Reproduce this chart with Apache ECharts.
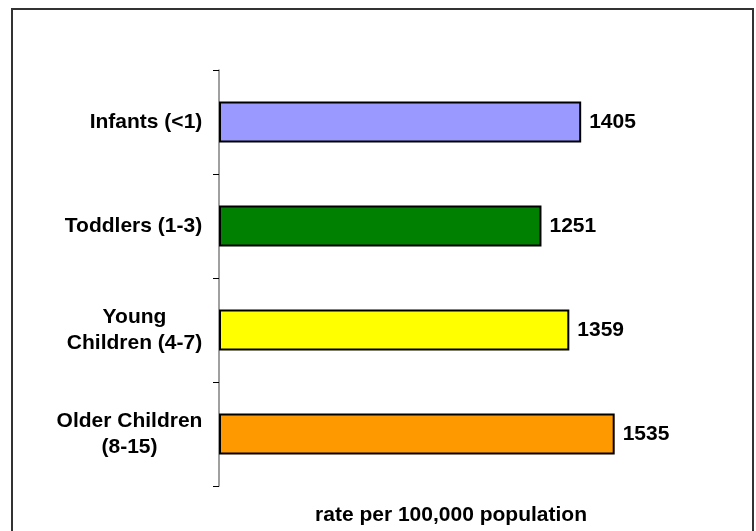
<!DOCTYPE html>
<html>
<head>
<meta charset="utf-8">
<script src="https://cdn.jsdelivr.net/npm/echarts@6/dist/echarts.min.js"></script>
<style>
    html, body { margin: 0; padding: 0; background: #fff; }
    #main { width: 756px; height: 531px; }
</style>
</head>
<body>
<div id="main"></div>
<script>
// 数据
var categories = ['Infants (<1)', 'Toddlers (1-3)', 'Young\nChildren (4-7)', 'Older Children\n(8-15)'];
var rates = [1405, 1251, 1359, 1535];
var barColors = ['#9999ff', '#008000', '#ffff00', '#ff9900'];
var axisName = 'rate per 100,000 population';

var labelFont = 'bold 21px "Liberation Sans", Arial, sans-serif';

// 每个类别的多行标签居中对齐，需要知道最长一行的宽度
var ctx = document.createElement('canvas').getContext('2d');
ctx.font = labelFont;
var rich = {};
categories.forEach(function (c, i) {
    var w = 0;
    c.split('\n').forEach(function (line) {
        w = Math.max(w, ctx.measureText(line).width);
    });
    rich['c' + i] = {
        width: Math.ceil(w) + 1,
        align: 'center',
        lineHeight: 26,
        fontSize: 21,
        fontWeight: 'bold',
        fontFamily: '"Liberation Sans", Arial, sans-serif',
        color: '#000'
    };
});

var myChart = echarts.init(document.getElementById('main'));

option = {
    animation: false,
    backgroundColor: '#fff',
    graphic: [{
        type: 'rect',
        shape: { x: 12, y: 9, width: 741, height: 540 },
        style: { fill: 'none', stroke: '#333', lineWidth: 2 },
        silent: true
    }],
    grid: {
        left: 219,
        top: 70,
        width: 464,
        bottom: 44
    },
    xAxis: {
        type: 'value',
        min: 0,
        max: 1800,
        name: axisName,
        nameLocation: 'middle',
        nameGap: 19,
        nameTextStyle: {
            color: '#000',
            fontSize: 21,
            fontWeight: 'bold',
            fontFamily: '"Liberation Sans", Arial, sans-serif'
        },
        axisLine: { show: false },
        axisTick: { show: false },
        axisLabel: { show: false },
        splitLine: { show: false }
    },
    yAxis: {
        type: 'category',
        inverse: true,
        data: categories,
        axisLine: {
            show: true,
            lineStyle: { color: '#808080', width: 1.5 }
        },
        axisTick: {
            show: true,
            length: 6,
            lineStyle: { color: '#000', width: 1 }
        },
        axisLabel: {
            margin: 16,
            formatter: function (value, index) {
                return value.split('\n').map(function (line) {
                    return '{c' + index + '|' + line + '}';
                }).join('\n');
            },
            rich: rich
        },
        splitLine: { show: false }
    },
    series: [{
        type: 'bar',
        barWidth: 41,
        data: rates.map(function (v, i) {
            return { value: v, itemStyle: { color: barColors[i] } };
        }),
        itemStyle: {
            borderColor: '#000',
            borderWidth: 2
        },
        label: {
            show: true,
            position: 'right',
            distance: 8,
            color: '#000',
            fontSize: 21,
            fontWeight: 'bold',
            fontFamily: '"Liberation Sans", Arial, sans-serif'
        }
    }]
};

myChart.setOption(option);
</script>
</body>
</html>
